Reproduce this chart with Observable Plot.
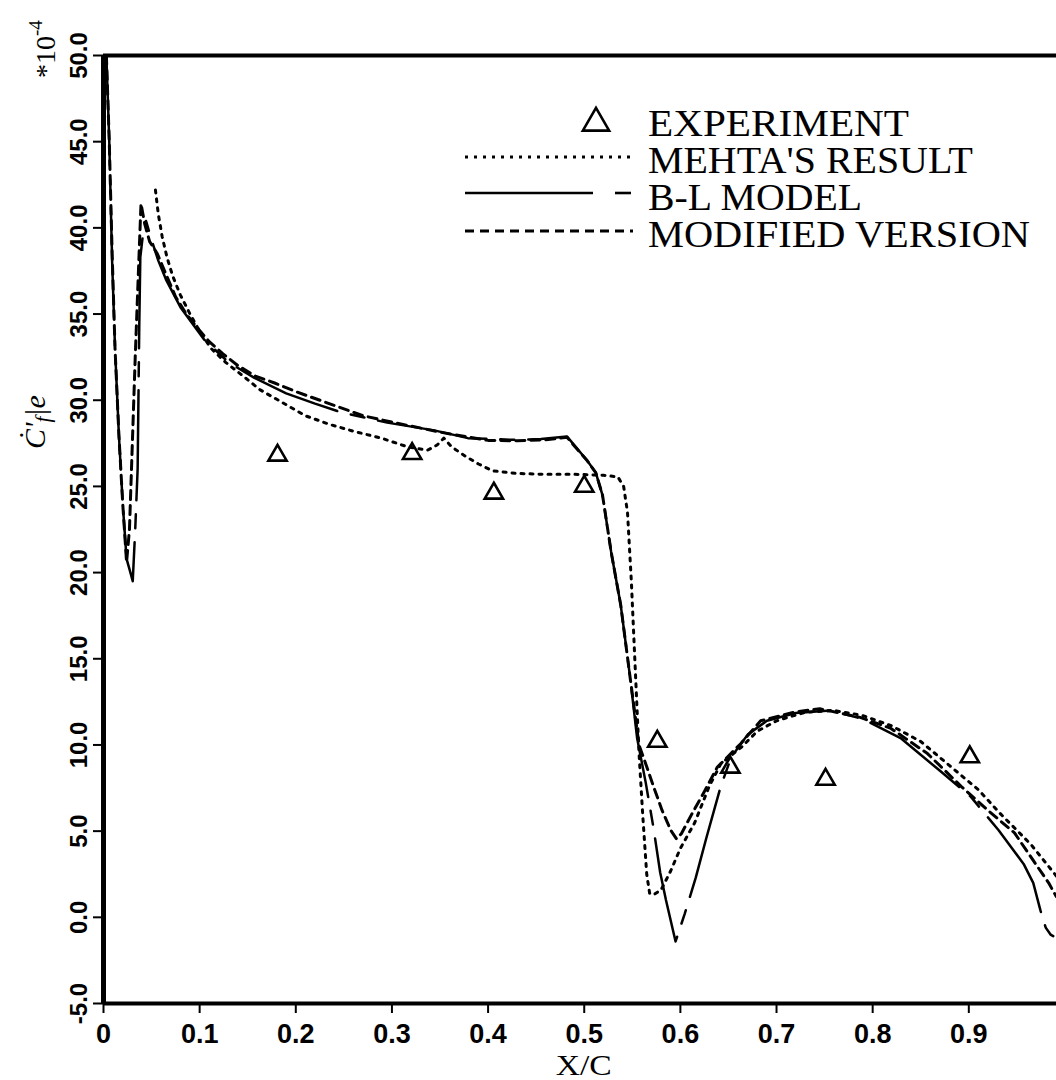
<!DOCTYPE html>
<html><head><meta charset="utf-8">
<script src="https://cdn.jsdelivr.net/npm/d3@7"></script>
<script src="https://cdn.jsdelivr.net/npm/@observablehq/plot@0.6"></script>
<style>html,body{margin:0;padding:0;background:#fff;overflow:hidden}</style>
</head><body><div id="chart"></div>
<script>
// ---- data ----
const expX = [0.181, 0.321, 0.406, 0.500, 0.576, 0.652, 0.751, 0.901];
const expY = [26.8, 26.9, 24.6, 25.0, 10.2, 8.7, 8.0, 9.3];

const mehtaX = [0.054, 0.057, 0.061, 0.066, 0.072, 0.08, 0.09, 0.1, 0.112, 0.127, 0.143, 0.163, 0.185, 0.21, 0.235, 0.26, 0.289, 0.316, 0.337, 0.347, 0.354, 0.362, 0.375, 0.39, 0.405, 0.43, 0.46, 0.49, 0.52, 0.535, 0.541, 0.545, 0.549, 0.553, 0.557, 0.561, 0.565, 0.568, 0.572, 0.58, 0.59, 0.60, 0.615, 0.63, 0.642, 0.664, 0.68, 0.70, 0.73, 0.76, 0.79, 0.82, 0.85, 0.88, 0.91, 0.933, 0.95, 0.965, 0.978, 0.991];
const mehtaY = [42.2, 40.8, 39.5, 38.3, 37.2, 36.1, 35.0, 34.0, 33.0, 32.2, 31.5, 30.6, 29.9, 29.1, 28.6, 28.2, 27.8, 27.3, 27.1, 27.4, 27.8, 27.3, 26.8, 26.3, 25.9, 25.75, 25.7, 25.7, 25.65, 25.55, 25.0, 23.5, 19.5, 14.5, 9.5, 5.8, 2.5, 1.4, 1.3, 1.6, 2.7, 4.0, 5.5, 7.6, 8.9, 9.9, 10.8, 11.4, 11.9, 12.0, 11.7, 11.1, 10.2, 8.8, 7.4, 6.0, 5.05, 4.2, 3.3, 2.4];

const blX = [0.003, 0.006, 0.009, 0.012, 0.016, 0.02, 0.024, 0.027, 0.0304, 0.033, 0.0355, 0.0372, 0.0383, 0.041, 0.0442, 0.05, 0.057, 0.065, 0.08, 0.105, 0.13, 0.157, 0.19, 0.22, 0.247, 0.295, 0.344, 0.379, 0.427, 0.455, 0.482, 0.503, 0.512, 0.519, 0.528, 0.538, 0.548, 0.555, 0.564, 0.572, 0.579, 0.585, 0.595, 0.6045, 0.616, 0.627, 0.642, 0.653, 0.67, 0.69, 0.72, 0.756, 0.79, 0.829, 0.87, 0.902, 0.931, 0.957, 0.967, 0.9745, 0.98, 0.985, 0.991];
const blY = [50, 45, 38, 33, 28, 24, 20.8, 20.2, 19.5, 22.5, 26.0, 34.3, 38.3, 39.6, 40.4, 39.3, 38.1, 37.0, 35.4, 33.5, 32.2, 31.3, 30.4, 29.8, 29.3, 28.7, 28.25, 27.8, 27.7, 27.75, 27.9, 26.5, 25.8, 24.5, 21.2, 18.1, 13.8, 10.4, 7.8, 5.2, 2.6, 1.0, -1.4, 0.2, 2.3, 4.6, 7.6, 9.3, 10.6, 11.4, 11.85, 12.0, 11.5, 10.4, 8.5, 7.0, 5.05, 3.1, 2.0, 0.4, -0.6, -1.0, -1.2];

const modX = [0.003, 0.006, 0.009, 0.012, 0.016, 0.02, 0.024, 0.027, 0.03, 0.033, 0.036, 0.039, 0.043, 0.048, 0.056, 0.065, 0.075, 0.085, 0.096, 0.11, 0.124, 0.14, 0.158, 0.178, 0.2, 0.23, 0.27, 0.30, 0.35, 0.40, 0.43, 0.46, 0.482, 0.503, 0.512, 0.519, 0.528, 0.538, 0.548, 0.557, 0.564, 0.572, 0.581, 0.59, 0.596, 0.601, 0.612, 0.625, 0.6385, 0.649, 0.6627, 0.6835, 0.718, 0.745, 0.787, 0.819, 0.857, 0.892, 0.92, 0.9475, 0.967, 0.983, 0.991];
const modY = [50, 45, 38.5, 33, 28, 24, 20.6, 22.5, 27.5, 32.5, 37.0, 41.4, 40.2, 39.2, 38.5, 37.3, 36.0, 35.1, 34.3, 33.4, 32.7, 32.0, 31.4, 31.0, 30.5, 29.9, 29.1, 28.73, 28.15, 27.67, 27.65, 27.7, 27.85, 26.5, 25.8, 24.5, 21.2, 18.1, 13.8, 10.0, 8.9, 7.6, 6.2, 5.05, 4.55, 4.85, 6.0, 7.3, 8.72, 9.3, 10.07, 11.4, 11.9, 12.1, 11.6, 10.96, 9.5, 7.6, 6.2, 4.9, 3.3, 2.0, 1.2];

const xTicks = [0, 0.1, 0.2, 0.3, 0.4, 0.5, 0.6, 0.7, 0.8, 0.9];
const yTicks = [-5, 0, 5, 10, 15, 20, 25, 30, 35, 40, 45, 50];

const legendLabels = ["EXPERIMENT", "MEHTA'S RESULT", "B-L MODEL", "MODIFIED VERSION"];

// ---- build tables ----
const toRows = (xs, ys) => xs.map((x, i) => ({x, y: ys[i]}));
const exp = toRows(expX, expY);
const mehta = toRows(mehtaX, mehtaY);
const bl = toRows(blX, blY);
const mod = toRows(modX, modY);

const SERIF = "'Liberation Serif', 'Times New Roman', serif";
const W = 1056, H = 1080;
const DOT = "3,6", LONG = "110,14,14,14", SHORT = "9,6";

const plot = Plot.plot({
  width: W, height: H,
  marginLeft: 103, marginRight: 0, marginTop: 55, marginBottom: 77,
  x: {domain: [0, 0.9912]},
  y: {domain: [-5, 50]},
  style: {background: "white", color: "black"},
  marks: [
    Plot.axisY({ticks: yTicks, tickSize: 10, tickPadding: 7, tickRotate: -90,
      tickFormat: d => d.toFixed(1), label: null,
      fontSize: 24, fontWeight: "bold", fontFamily: "'Liberation Sans', Arial, sans-serif", strokeWidth: 2}),
    Plot.axisX({ticks: xTicks, tickSize: 10, tickPadding: 10,
      tickFormat: d => d === 0 ? "0" : d.toFixed(1), label: null,
      fontSize: 27, fontWeight: "bold", fontFamily: "'Liberation Sans Narrow', 'Arial Narrow', 'Liberation Sans', sans-serif", strokeWidth: 2}),
    Plot.line(mehta, {x: "x", y: "y", stroke: "black", strokeWidth: 3, strokeDasharray: DOT, clip: true}),
    Plot.line(bl, {x: "x", y: "y", stroke: "black", strokeWidth: 2.5, strokeDasharray: LONG, clip: true}),
    Plot.line(mod, {x: "x", y: "y", stroke: "black", strokeWidth: 3, strokeDasharray: SHORT, clip: true}),
    Plot.dot(exp, {x: "x", y: "y", symbol: "triangle", r: 6.8, stroke: "black", fill: "none", strokeWidth: 2.6}),
    Plot.ruleX([0], {strokeWidth: 5}),
    Plot.ruleY([50], {strokeWidth: 4}),
    Plot.ruleY([-5], {strokeWidth: 4})
  ]
});
document.getElementById("chart").appendChild(plot);

// ---- chrome: labels and legend ----
const svg = d3.select(plot);
const sx = plot.scale("x");
const g = svg.append("g").attr("fill", "black").attr("text-anchor", "start");

// x-axis label
g.append("text").attr("x", sx.apply(0.5)).attr("y", 1075).attr("text-anchor", "middle")
  .attr("font-family", SERIF).attr("font-size", 30)
  .attr("textLength", 56).attr("lengthAdjust", "spacingAndGlyphs").text("X/C");

// y-axis label
const yl = g.append("text").attr("transform", "translate(45,422) rotate(-90)").attr("text-anchor", "middle")
  .attr("font-family", SERIF).attr("font-style", "italic").attr("font-size", 30);
yl.append("tspan").text("Ċ'");
yl.append("tspan").attr("font-size", 21).attr("dy", 5).text("f");
yl.append("tspan").attr("dy", -5).text("|e");

// scale factor label
const sf = g.append("text").attr("transform", "translate(55,78) rotate(-90)").attr("text-anchor", "start")
  .attr("font-family", SERIF).attr("font-size", 28);
sf.append("tspan").text("*10");
sf.append("tspan").attr("dy", -13).attr("font-size", 19).text("-4");

// legend
const lg = g.append("g");
const lx0 = 465, lx1 = 633, tx = 648;
const rowsY = [136, 173, 210, 247];
lg.append("path").attr("d", d3.symbol(d3.symbolTriangle, 300)()).attr("transform", "translate(596,123)")
  .attr("fill", "none").attr("stroke", "black").attr("stroke-width", 2.6);
lg.append("line").attr("x1", lx0).attr("x2", lx1).attr("y1", 157).attr("y2", 157)
  .attr("stroke", "black").attr("stroke-width", 3).attr("stroke-dasharray", DOT);
lg.append("line").attr("x1", lx0).attr("x2", 593).attr("y1", 193).attr("y2", 193)
  .attr("stroke", "black").attr("stroke-width", 2.6);
lg.append("line").attr("x1", 615).attr("x2", 631).attr("y1", 193).attr("y2", 193)
  .attr("stroke", "black").attr("stroke-width", 2.6);
lg.append("line").attr("x1", lx0).attr("x2", lx1).attr("y1", 231).attr("y2", 231)
  .attr("stroke", "black").attr("stroke-width", 3).attr("stroke-dasharray", SHORT);
legendLabels.forEach((t, i) => {
  lg.append("text").attr("x", tx).attr("y", rowsY[i]).attr("text-anchor", "start")
    .attr("font-family", SERIF).attr("font-size", 37)
    .attr("textLength", [261, 325, 214, 382][i]).attr("lengthAdjust", "spacingAndGlyphs").text(t);
});
</script>
</body></html>
